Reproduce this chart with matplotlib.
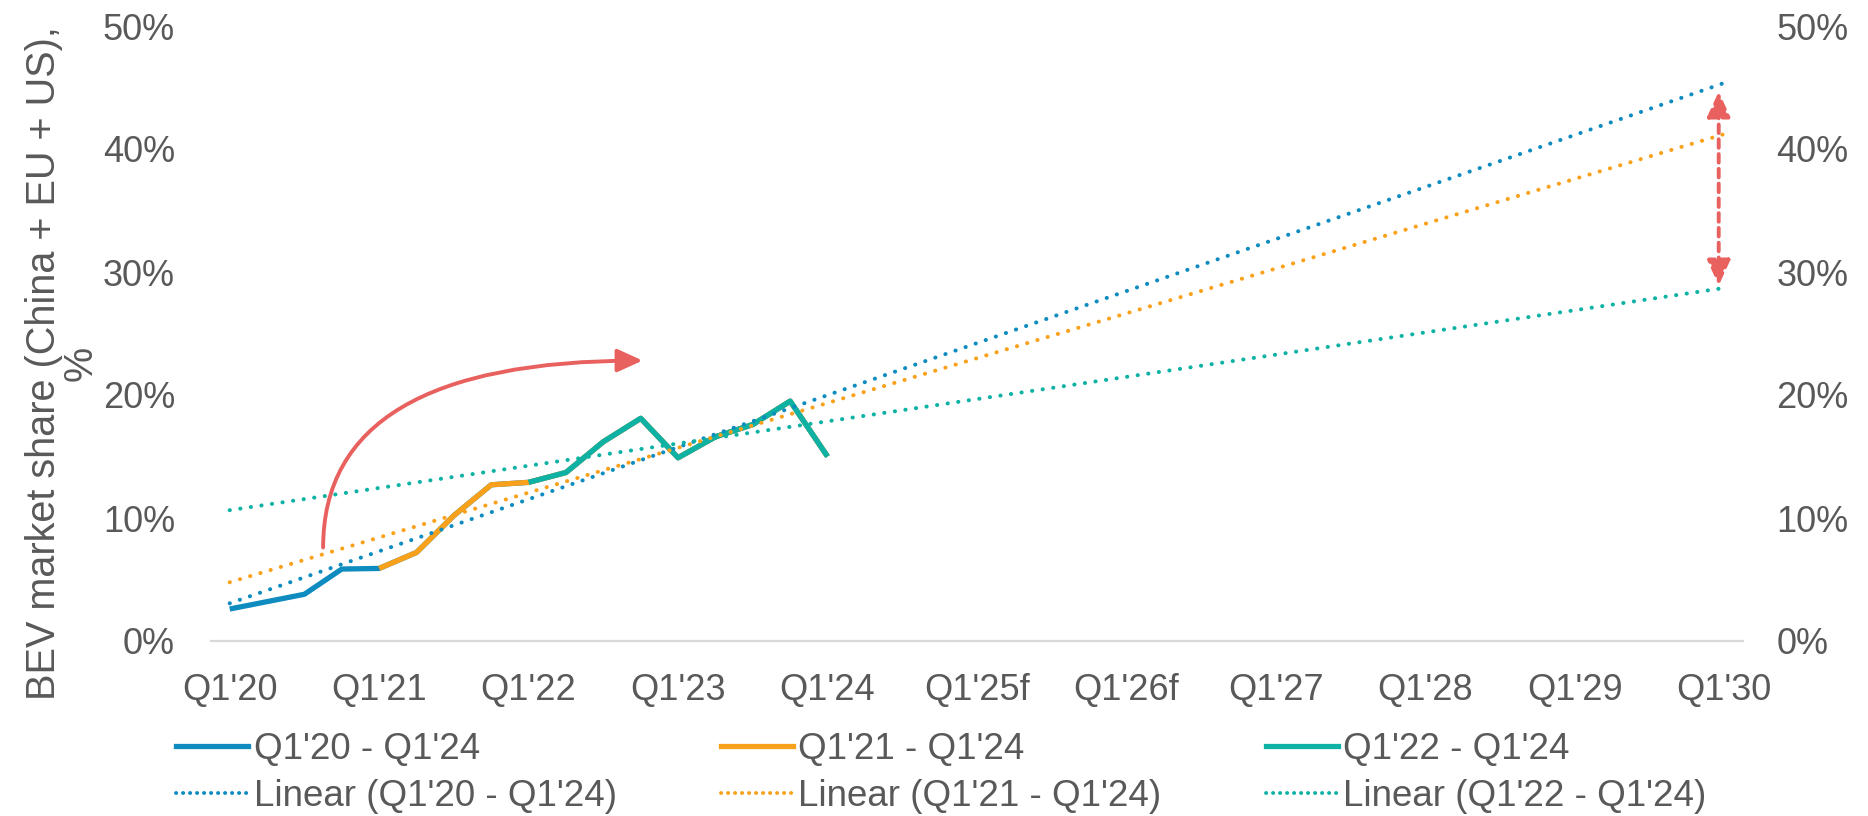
import numpy as np
import matplotlib
matplotlib.use("Agg")
import matplotlib.pyplot as plt
from matplotlib.lines import Line2D

plt.rcParams['font.family'] = ['Liberation Sans', 'DejaVu Sans']

# BEV market share (China + EU + US), % -- quarterly actuals Q1'20 .. Q1'24
kwartaal = ["Q1'20", "Q2'20", "Q3'20", "Q4'20", "Q1'21", "Q2'21", "Q3'21", "Q4'21",
            "Q1'22", "Q2'22", "Q3'22", "Q4'22", "Q1'23", "Q2'23", "Q3'23", "Q4'23", "Q1'24"]
aandeel = [2.6, 3.2, 3.8, 5.85, 5.9, 7.2, 10.2, 12.7,
           12.9, 13.7, 16.2, 18.1, 14.9, 16.6, 17.6, 19.5, 15.0]

# x tick labels, one per year (Q1 of every year up to 2030)
tick_labels = ["Q1'20", "Q1'21", "Q1'22", "Q1'23", "Q1'24", "Q1'25f",
               "Q1'26f", "Q1'27", "Q1'28", "Q1'29", "Q1'30"]

# series: name, first quarter index, colour
reeksen = [("Q1'20 - Q1'24", 0, "#0E8BBF"),
           ("Q1'21 - Q1'24", 4, "#F9A11B"),
           ("Q1'22 - Q1'24", 8, "#0DB2A4")]

n_kwartalen = 4 * (len(tick_labels) - 1)  # Q1'20 .. Q1'30
grijs = "#595959"
rood = "#E8615F"

fig = plt.figure(figsize=(18.68, 8.16), dpi=100)
ax = fig.add_axes([211 / 1868, 1 - 641 / 816, (1743 - 211) / 1868, (641 - 26) / 816])

x_all = np.arange(len(aandeel))
x_trend = np.array([0, n_kwartalen])
eindwaarden = {}
handles = []
for naam, start, kleur in reeksen:
    x = x_all[start:]
    y = np.array(aandeel[start:])
    ax.plot(x, y, color=kleur, lw=3.8, solid_joinstyle='round', solid_capstyle='butt', zorder=2)
    coef = np.polyfit(x, y, 1)
    yt = np.polyval(coef, x_trend)
    eindwaarden[naam] = yt[-1]
    ax.plot(x_trend, yt, color=kleur, lw=2.9, linestyle=(0, (0.05, 2.6)),
            dash_capstyle='round', zorder=3)
    handles.append(Line2D([], [], color=kleur, lw=3.8, label=naam))
    handles.append(Line2D([], [], color=kleur, lw=2.8, linestyle=(0, (0.05, 1.75)),
                          dash_capstyle='round', label="Linear (" + naam + ")"))

ax.set_xlim(-0.5, n_kwartalen + 0.5)
ax.set_ylim(0, 50)
ax.set_xticks(np.arange(0, n_kwartalen + 1, 4))
ax.set_xticklabels(tick_labels)
ax.set_yticks(np.arange(0, 51, 10))
ax.set_yticklabels([f"{v}%" for v in range(0, 51, 10)])
ax.tick_params(axis='x', length=0, pad=23, labelsize=26, colors=grijs)
ax.tick_params(axis='y', length=0, pad=26, labelsize=26, colors=grijs)

for s in ['top', 'right', 'left']:
    ax.spines[s].set_visible(False)
ax.spines['bottom'].set_color("#D9D9D9")
ax.spines['bottom'].set_linewidth(1.6)

ax2 = ax.twinx()
ax2.set_ylim(0, 50)
ax2.set_yticks(np.arange(0, 51, 10))
ax2.set_yticklabels([f"{v}%" for v in range(0, 51, 10)])
ax2.tick_params(axis='y', length=0, pad=24, labelsize=26, colors=grijs)
for s in ax2.spines.values():
    s.set_visible(False)

# curved arrow (from Q1'20 start towards later quarters)
ax.annotate("", xy=(11.05, 22.8), xytext=(2.5, 7.6),
            arrowprops=dict(arrowstyle="-|>,head_length=0.7,head_width=0.32",
                            connectionstyle="angle3,angleA=90,angleB=0",
                            color=rood, lw=2.8, mutation_scale=22, shrinkA=0, shrinkB=0),
            zorder=4)

# dashed double arrow at Q1'30 between steepest and flattest trend
boven = eindwaarden["Q1'20 - Q1'24"]
onder = eindwaarden["Q1'22 - Q1'24"]
ax.annotate("", xy=(n_kwartalen - 0.15, boven - 0.7), xytext=(n_kwartalen - 0.15, onder + 0.2),
            arrowprops=dict(arrowstyle="<|-|>,head_length=0.7,head_width=0.32",
                            color=rood, lw=2.8, linestyle=(0, (2.2, 1.6)),
                            mutation_scale=22, shrinkA=0, shrinkB=0),
            zorder=4)

fig.text(62 / 1868, 1 - 363 / 816, "BEV market share (China + EU + US),\n%",
         rotation=90, ha='center', va='center', multialignment='center',
         fontsize=28.5, color=grijs, linespacing=0.95)

leg = fig.legend(handles=handles, ncol=3, loc='upper left',
                 bbox_to_anchor=(176 / 1868, 1 - 732 / 816), frameon=False,
                 fontsize=26.5, labelcolor=grijs, handlelength=1.96, handletextpad=0.15,
                 columnspacing=2.83, labelspacing=0.32, borderpad=0, borderaxespad=0)

fig.savefig("out.png", dpi=100)
